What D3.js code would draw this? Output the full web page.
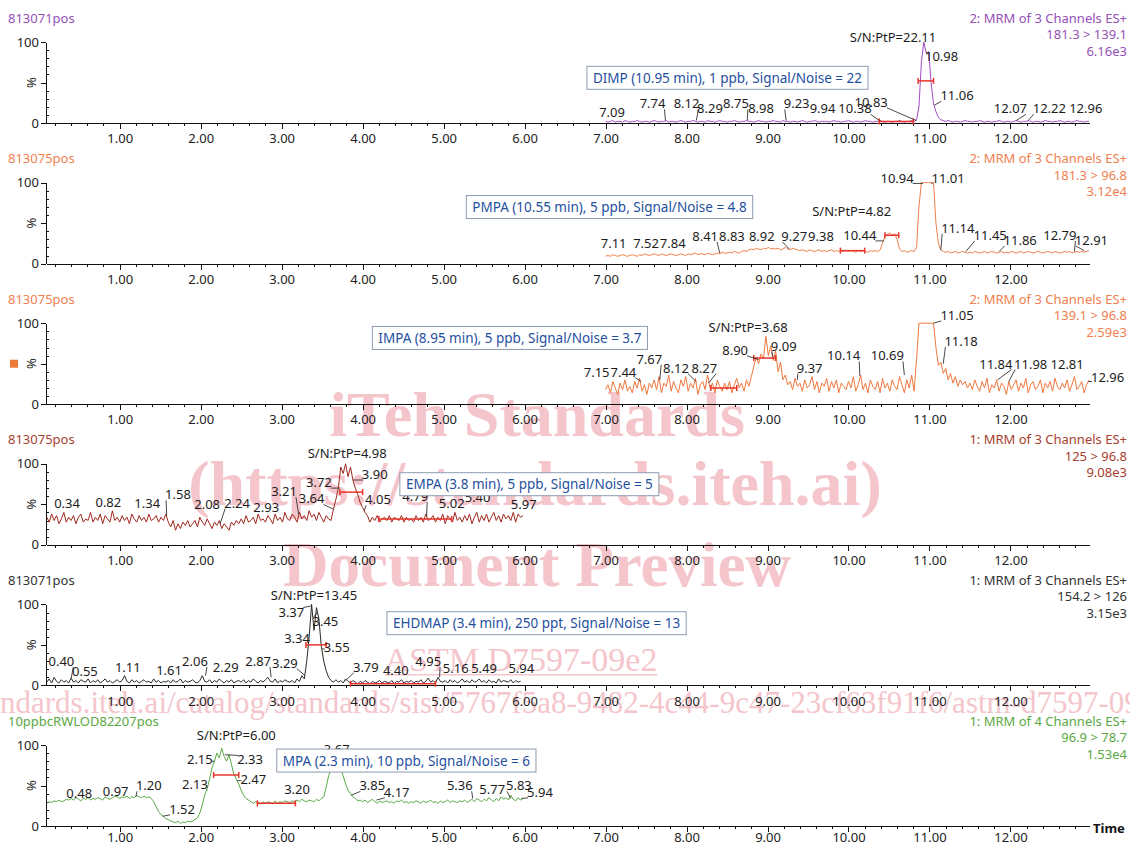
<!DOCTYPE html>
<html><head><meta charset="utf-8">
<script src="https://cdn.jsdelivr.net/npm/d3@7"></script>
<style>
body{margin:0;background:#fff}
svg{display:block}
text{font-family:'Noto Sans',sans-serif}
</style>
</head><body>
<svg id="c" width="1130" height="846"></svg>
<script>
// ---------------- DATA ----------------
const timeStep = 0.03;
const traceStarts = [7.00, 7.00, 7.00, 0.10, 0.10, 0.10];
const sampleNames = ["813071pos","813075pos","813075pos","813075pos","813071pos","10ppbcRWLOD82207pos"];
const channelNames = ["2: MRM of 3 Channels ES+","2: MRM of 3 Channels ES+","2: MRM of 3 Channels ES+","1: MRM of 3 Channels ES+","1: MRM of 3 Channels ES+","1: MRM of 4 Channels ES+"];
const transitions = ["181.3 > 139.1","181.3 > 96.8","139.1 > 96.8","125 > 96.8","154.2 > 126","96.9 > 78.7"];
const intensities = ["6.16e3","3.12e4","2.59e3","9.08e3","3.15e3","1.53e4"];
const boxTexts = ["DIMP (10.95 min), 1 ppb, Signal/Noise = 22","PMPA (10.55 min), 5 ppb, Signal/Noise = 4.8","IMPA (8.95 min), 5 ppb, Signal/Noise = 3.7","EMPA (3.8 min), 5 ppb, Signal/Noise = 5","EHDMAP (3.4 min), 250 ppt, Signal/Noise = 13","MPA (2.3 min), 10 ppb, Signal/Noise = 6"];
const xTickValues = [1,2,3,4,5,6,7,8,9,10,11,12];
const yTickValues = [0,50,100];

const dimpValues = [
2,1,2,3,1,2,2,1,3,2, 1,2,2,3,2,1,2,2,1,2, 3,2,1,2,2,3,1,2,2,1, 2,3,2,1,2,2,3,2,1,2,
2,1,3,2,2,1,2,3,2,2, 1,2,2,3,2,1,2,2,3,2, 2,1,2,3,2,2,1,2,2,3, 2,2,1,3,2,2,1,2,2,1,
2,3,2,1,2,2,3,2,1,2, 2,2,1,2,3,2,2,1,2,2, 3,2,1,2,2,1,2,3,2,2, 1,2,2,3,2,1,2,2,1,2,
2,3,2,1,2,2,3,2,4,20, 75,100,86,88,50,24,14,7,4,3, 2,3,2,1,2,2,1,2,3,2, 2,1,2,2,3,2,1,2,2,1,
2,2,3,2,1,2,2,1,2,3, 2,1,2,2,3,2,1,2,2,1, 2,3,2,2,1,2,2,3,2,1, 2,2,1,2,3,2,2,1,2,2];

const pmpaValues = [
9,10,9,11,10,9,10,11,10,9, 10,11,10,9,11,10,12,11,10,11, 12,11,10,12,11,10,11,12,11,10, 11,12,11,10,12,11,12,13,11,12,
12,11,13,12,11,12,13,12,14,13, 13,14,13,15,14,13,15,16,15,17, 18,17,19,18,17,19,18,20,18,19, 18,19,17,18,20,18,17,19,18,17,
16,17,16,15,17,16,15,16,17,15, 16,15,16,17,15,16,15,16,15,16, 15,16,15,14,16,15,16,15,14,16, 15,16,15,17,25,34,36,38,35,37,
30,18,15,16,14,15,16,15,20,70, 100,100,100,100,100,100,50,25,17,15, 14,15,13,14,15,13,14,15,14,13, 14,13,15,14,13,14,15,13,14,15,
14,13,14,15,13,14,13,15,14,13, 14,15,13,14,15,14,13,14,15,14, 13,14,15,14,13,15,14,13,14,15, 14,15,13,14,15,14,15,14,15,16];

const impaValues = [
18,24,14,28,20,12,26,18,30,16, 22,14,28,20,32,16,24,12,26,20, 30,18,34,14,26,22,36,16,28,20, 14,30,22,34,16,26,20,32,12,24,
28,18,36,20,26,14,30,22,16,26, 18,28,14,24,32,20,26,16,30,22, 34,46,58,50,62,56,84,60,72,54, 66,40,52,30,36,24,28,18,32,22,
26,16,30,20,24,34,18,28,14,26, 22,32,16,28,20,30,14,26,22,18, 28,20,34,16,24,36,18,26,14,30, 22,18,28,14,32,20,26,16,30,22,
18,34,24,14,30,20,36,16,55,100, 100,100,100,100,100,100,70,48,52,38, 44,30,38,26,34,22,30,24,28,20, 26,18,30,22,16,28,20,32,14,24,
20,30,16,26,22,12,28,18,24,30, 16,26,20,32,14,24,28,18,22,30, 14,26,20,28,16,32,22,18,26,20, 30,16,24,34,18,22,28,14,24,30];

const empaValues = [
34,28,38,30,36,26,32,40,28,34, 30,36,26,34,38,28,32,30,40,28, 34,30,38,26,36,32,28,42,30,34, 28,36,30,34,26,38,32,28,36,30,
34,28,38,30,32,36,28,34,30,38, 28,22,30,18,26,20,28,24,30,22, 26,30,22,34,28,24,32,26,20,28, 24,30,20,26,22,18,28,24,30,26,
32,26,36,28,30,34,26,38,30,32, 28,36,32,26,38,30,34,28,40,32, 30,38,34,28,40,32,36,30,42,34, 38,30,40,34,28,36,32,30,44,56,
70,96,88,100,84,96,80,70,62,52, 46,40,36,28,34,30,36,28,32,34, 30,36,28,34,32,30,36,28,34,30, 32,28,36,30,34,28,38,30,32,36,
28,34,30,38,26,36,32,28,40,30, 34,28,36,30,38,26,34,40,28,36, 30,38,28,34,40,30,36,28,38,32, 36,30,40,28,38,34,36];

const ehdmapValues = [
4,8,3,10,5,3,7,4,6,3, 9,4,6,3,7,5,4,8,3,6, 4,7,3,5,8,4,6,3,5,7, 4,6,12,5,3,7,4,6,3,5,
7,4,5,3,8,4,6,3,5,4, 6,3,7,4,5,8,3,6,4,5, 7,4,3,6,12,5,4,7,3,6, 4,8,5,3,6,4,7,3,5,6,
4,7,3,6,4,8,5,3,6,4, 7,10,5,4,8,3,6,4,7,5, 4,6,3,8,5,12,8,30,60,100, 68,96,82,48,30,18,10,6,4,7,
4,6,3,8,5,3,6,4,2,5, 3,6,4,2,5,3,4,6,3,5, 4,3,6,2,5,4,7,3,5,4, 6,3,5,4,7,3,5,9,4,6,
3,10,5,4,6,3,7,4,6,3, 5,8,4,6,3,7,4,5,8,4, 6,3,7,4,5,3,8,4,6,5, 4,7,3,6,4,5];

const mpaValues = [
28,30,29,31,30,32,30,31,33,32, 34,32,35,33,31,34,33,35,32,34, 33,35,34,32,36,34,33,35,37,36, 34,36,35,37,34,36,35,38,36,35,
37,35,36,34,30,24,18,14,12,9, 8,6,5,4,6,3,5,4,6,5, 6,8,10,16,26,38,46,58,72,80, 90,84,96,86,80,88,76,64,58,52,
44,38,34,32,30,28,30,29,27,30, 28,30,29,27,31,28,30,29,31,30, 29,31,30,32,30,33,31,30,32,31, 30,33,31,34,36,48,62,70,74,72,
75,70,62,52,44,40,36,34,31,32, 30,32,29,31,33,30,28,31,29,30, 31,29,30,28,31,30,32,29,30,28, 30,29,31,30,28,31,29,30,32,29,
30,28,31,29,30,32,29,31,30,29, 31,30,32,29,31,33,30,34,32,30, 33,31,35,32,30,34,31,36,33,35, 32,38,33,31,35,32,34];

// peak labels: [text, label time, label %, leader time, leader %]
const dimpLabels = [["S/N:PtP=22.11",10.55,100],["10.98",11.15,77,10.97,87],["10.83",10.28,20,10.84,3],["11.06",11.34,28,11.06,22],["7.09",7.08,8],["7.74",7.58,18,7.74,3],["8.12",8.00,18,8.12,3],["8.29",8.29,12],["8.75",8.61,18,8.75,3],["8.98",8.92,12],["9.23",9.36,18,9.23,3],["9.94",9.68,12],["10.38",10.08,12,10.38,3],["12.07",12.00,12,12.07,3],["12.22",12.48,12,12.22,3],["12.96",12.93,12]];
const pmpaLabels = [["S/N:PtP=4.82",10.04,59],["10.94",10.60,100,10.92,99],["11.01",11.23,100,11.02,99],["7.11",7.10,19],["7.52",7.50,19],["7.84",7.83,19],["8.41",8.23,28,8.41,13],["8.83",8.56,28],["8.92",8.93,28],["9.27",9.33,28,9.27,18],["9.38",9.66,28],["10.44",10.14,29,10.44,28],["11.14",11.35,38,11.14,17],["11.45",11.75,29,11.45,15],["11.86",12.12,23,11.86,15],["12.79",12.61,29,12.79,15],["12.91",13.0,23,12.91,16]];
const impaLabels = [["S/N:PtP=3.68",8.76,89],["8.90",8.60,61,8.89,55],["9.09",9.20,66,9.07,58],["7.15",6.89,34],["7.44",7.22,34,7.44,28],["7.67",7.54,50,7.67,30],["8.12",7.87,39,8.12,28],["8.27",8.22,39,8.27,26],["9.37",9.52,39,9.37,30],["10.14",9.94,54,10.14,35],["10.69",10.48,54,10.69,36],["11.05",11.34,104,11.05,100],["11.18",11.39,72,11.17,50],["11.84",11.82,44,11.84,30],["11.98",12.25,44,11.98,28],["12.81",12.70,44],["12.96",13.2,28,12.96,28]];
const empaLabels = [["S/N:PtP=4.98",3.81,107],["0.34",0.35,46],["0.82",0.86,47],["1.34",1.34,46],["1.58",1.72,56,1.58,36],["2.08",2.08,44],["2.24",2.45,46,2.24,26],["2.93",2.81,41],["3.21",3.03,60,3.21,38],["3.64",3.37,51,3.64,44],["3.72",3.46,71,3.72,70],["3.90",4.15,81,3.88,80],["4.05",4.19,50,4.02,42],["4.79",4.65,54,4.79,35],["5.02",5.10,46],["5.40",5.42,53],["5.97",5.99,44]];
const ehdmapLabels = [["S/N:PtP=13.45",3.40,106],["3.37",3.12,85,3.36,98],["3.45",3.54,73,3.44,90],["3.34",3.19,52,3.33,55],["3.55",3.68,41,3.50,45],["0.40",0.28,24,0.40,8],["0.55",0.57,12],["1.11",1.10,17],["1.61",1.61,13],["2.06",1.93,24,2.06,12],["2.29",2.31,17],["2.87",2.71,24,2.87,10],["3.29",3.04,22,3.29,12],["3.79",4.04,17,3.79,6],["4.40",4.41,13],["4.95",4.81,24,4.95,10],["5.16",5.15,15],["5.49",5.50,15],["5.94",5.96,15]];
const mpaLabels = [["S/N:PtP=6.00",2.44,106],["3.67",3.68,89],["2.15",1.99,76,2.17,80],["2.33",2.61,76,2.30,88],["2.47",2.65,52,2.45,56],["2.13",1.93,46,2.08,44],["1.52",1.77,15,1.53,12],["0.48",0.50,35],["0.97",0.95,37],["1.20",1.36,44,1.20,36],["3.20",3.19,40],["3.85",4.12,44,3.86,38],["4.17",4.42,36,4.17,32],["5.36",5.20,44,5.36,34],["5.77",5.60,40],["5.83",5.93,44,5.83,34],["5.94",6.19,36,5.96,34]];

// peak-width and noise markers: [start, end, %]
const widthBars = [[10.86,11.05,52],[10.45,10.62,35],[8.83,9.10,57],[3.72,4.00,65],[3.30,3.55,50],[2.16,2.47,63]];
const noiseBars = [[10.38,10.80,2],[9.90,10.20,16],[8.30,8.62,20],[4.20,5.10,32],[3.85,4.90,2],[2.70,3.17,28]];

// ---------------- LAYOUT / STYLE ----------------
const boxAnchors = [[6.77,70],[5.28,84],[4.12,96],[4.46,89],[4.30,91],[2.94,95]];
const traceColors = ["#a24cc4","#f0804c","#f0783e","#a0281e","#2a2a2a","#5aa844"];
const headerColors = ["#9650b8","#f08050","#f08050","#a8402e","#333333","#5aa844"];
const allValues = [dimpValues,pmpaValues,impaValues,empaValues,ehdmapValues,mpaValues];
const allLabels = [dimpLabels,pmpaLabels,impaLabels,empaLabels,ehdmapLabels,mpaLabels];

const svg = d3.select('#c');

// watermark (drawn first, behind the chart)
const SERIF = "'Liberation Serif', 'DejaVu Serif', serif";
const wm = svg.append('g').attr('fill', '#f5c5cc');
function wmText(txt, xx, yy, size, bold, anchor) {
  return wm.append('text').attr('x', xx).attr('y', yy).attr('text-anchor', anchor)
    .style('font-family', SERIF).style('font-size', size + 'px').style('font-weight', bold ? 'bold' : 'normal').text(txt);
}
wmText('iTeh Standards', 537, 436, 64, true, 'middle');
wmText('(https://standards.iteh.ai)', 535, 505, 64, true, 'middle');
wmText('Document Preview', 537, 586, 63, true, 'middle');
const astm = wmText('ASTM D7597-09e2', 521, 671, 34, false, 'middle');
const aw = astm.node().getComputedTextLength();
wm.append('rect').attr('x', 521 - aw/2).attr('y', 674).attr('width', aw).attr('height', 1.5);
const url = wmText('https://standards.iteh.ai/catalog/standards/sist/5767f5a8-9482-4c44-9c47-23cf63f91f6/astm-d7597-09e2', 0, 713, 31, false, 'start');
url.attr('x', -url.node().getSubStringLength(0, 11));

const x = d3.scaleLinear().domain([0.09, 12.97]).range([46, 1089]);
const minorX = d3.range(1, 65).map(k => +(k*0.2).toFixed(2)).filter(t => Math.abs(t - Math.round(t)) > 1e-6 && t < 12.97);
const minorY = [10,20,30,40,60,70,80,90];
const RED = "#e8322a";

sampleNames.forEach((name, i) => {
  const base = 123 + i*140.6;
  const y = d3.scaleLinear().domain([0,100]).range([base, base-81]);
  const g = svg.append('g');

  // headers
  g.append('text').attr('x', 8).attr('y', base-100.5).attr('font-size', 13).attr('fill', headerColors[i]).text(name);
  [channelNames[i], transitions[i], intensities[i]].forEach((t, k) => {
    g.append('text').attr('x', 1127).attr('y', base-100.5 + k*16.5).attr('text-anchor','end')
      .attr('font-size', 13).attr('fill', headerColors[i]).text(t);
  });

  // x axis
  const xa = g.append('g').attr('transform', `translate(0,${base})`)
    .call(d3.axisBottom(x).tickValues(xTickValues).tickFormat(d3.format('.2f')).tickSize(6).tickSizeOuter(0).tickPadding(i===5?1:5));
  xa.selectAll('text').attr('font-size', 13).attr('fill', '#222').attr('font-family', "'Noto Sans',sans-serif");
  xa.selectAll('path,line').attr('stroke', '#111').attr('shape-rendering','crispEdges');
  const xm = g.append('g').attr('transform', `translate(0,${base})`)
    .call(d3.axisBottom(x).tickValues(minorX).tickFormat('').tickSize(3).tickSizeOuter(0));
  xm.select('.domain').remove();
  xm.selectAll('line').attr('stroke', '#111').attr('shape-rendering','crispEdges');

  // y axis
  const ya = g.append('g').attr('transform', `translate(46,0)`)
    .call(d3.axisLeft(y).tickValues(yTickValues).tickFormat(d => d===50 ? '' : d).tickSize(5).tickSizeOuter(0).tickPadding(2));
  ya.selectAll('text').attr('font-size', 13).attr('fill', '#222').attr('font-family', "'Noto Sans',sans-serif");
  ya.selectAll('path,line').attr('stroke', '#111').attr('shape-rendering','crispEdges');
  const ym = g.append('g').attr('transform', `translate(46,0)`)
    .call(d3.axisRight(y).tickValues(minorY).tickFormat('').tickSize(3).tickSizeOuter(0));
  ym.select('.domain').remove();
  ym.selectAll('line').attr('stroke', '#111').attr('shape-rendering','crispEdges');
  g.append('text').attr('transform', `translate(36,${y(50)}) rotate(-90)`).attr('text-anchor','middle')
    .attr('font-size', 13).attr('fill', '#222').text('%');

  if (i === 2) {
    g.append('rect').attr('x', 10).attr('y', y(50)-4).attr('width', 8).attr('height', 8).attr('fill', '#f07a3a');
  }

  // trace
  const data = allValues[i].map((v, k) => [traceStarts[i] + k*timeStep, v]);
  g.append('path').datum(data).attr('fill','none').attr('stroke', traceColors[i]).attr('stroke-width', 1)
    .attr('stroke-linejoin','round')
    .attr('d', d3.line().x(d => x(d[0])).y(d => y(d[1])));

  // red markers
  [widthBars[i], noiseBars[i]].forEach(b => {
    const yy = y(b[2]);
    g.append('line').attr('x1', x(b[0])).attr('x2', x(b[1])).attr('y1', yy).attr('y2', yy).attr('stroke', RED).attr('stroke-width', 1.5);
    [b[0], b[1]].forEach(t => g.append('line').attr('x1', x(t)).attr('x2', x(t)).attr('y1', yy-3).attr('y2', yy+3).attr('stroke', RED).attr('stroke-width', 1.5));
  });

  // labels
  allLabels[i].forEach(l => {
    const cx = x(l[1]), by = y(l[2]);
    const t = g.append('text').attr('x', cx).attr('y', by).attr('text-anchor','middle')
      .attr('font-size', 13).attr('fill', '#1c1c1c').text(l[0]);
    if (l.length > 3) {
      const w = t.node().getComputedTextLength();
      const ax = x(l[3]), ay = y(l[4]);
      const sx = ax < cx ? cx - w/2 + 1 : cx + w/2 - 1;
      const sy = Math.max(by - 9, Math.min(by + 1, ay));
      g.append('line').attr('x1', sx).attr('y1', sy).attr('x2', ax).attr('y2', ay).attr('stroke', '#333').attr('stroke-width', 0.9);
    }
  });

  // annotation box
  const bx = x(boxAnchors[i][0]), byy = y(boxAnchors[i][1]);
  const bg = g.append('g');
  const rect = bg.append('rect').attr('x', bx).attr('y', byy).attr('height', 23).attr('fill', '#fff')
    .attr('stroke', '#8d9bb0').attr('stroke-width', 1);
  const bt = bg.append('text').attr('x', bx + 6).attr('y', byy + 16.5).attr('font-size', 13.5).attr('fill', '#1f50a0').text(boxTexts[i]);
  rect.attr('width', bt.node().getComputedTextLength() + 12);
});

svg.append('text').attr('x', 1093).attr('y', 833).attr('font-size', 13).attr('font-weight', 'bold').attr('fill', '#111').text('Time');
</script>
</body></html>
